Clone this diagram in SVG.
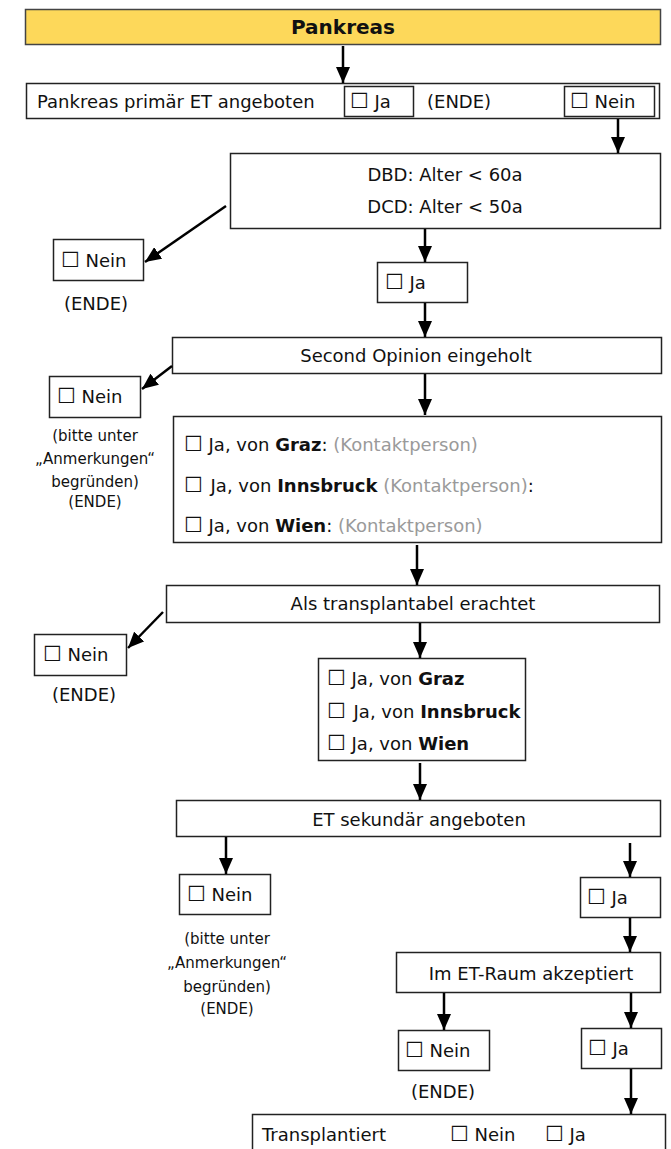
<svg xmlns="http://www.w3.org/2000/svg" width="671" height="1149" viewBox="0 0 671 1149">
  <defs>
    <marker id="arrow" markerUnits="userSpaceOnUse" markerWidth="16" markerHeight="14" refX="16" refY="7" orient="auto">
      <path d="M0,0 L16,7 L0,14 z" fill="#000"/>
    </marker>
    <style>
      text { font-family: "DejaVu Sans", "Liberation Sans", sans-serif; font-size: 18px; fill: #111; }
      .box { fill: #fff; stroke: #222; stroke-width: 1.5; }
      .head { fill: #FDD85A; stroke: #444; stroke-width: 1.5; }
      .b { font-weight: bold; }
      .h { font-size: 20px; }
      .c { text-anchor: middle; }
      .s { font-size: 15px; }
      .g { fill: #9a9a9a; }
      .cb { font-size: 21px; }
      .conn line { stroke: #000; stroke-width: 2.5; marker-end: url(#arrow); }
    </style>
  </defs>
  <rect width="671" height="1149" fill="#fff"/>

  <!-- header -->
  <g id="n-pankreas">
    <rect class="head" x="25.5" y="9.5" width="635" height="35"/>
    <text class="b c h" x="343" y="34">Pankreas</text>
  </g>

  <!-- primary offer row -->
  <g id="n-primaer">
    <rect class="box" x="26.5" y="83.5" width="633" height="35"/>
    <text x="37" y="108">Pankreas primär ET angeboten</text>
    <rect class="box" x="344.5" y="86.5" width="69" height="30"/>
    <text x="350" y="108"><tspan class="cb">☐</tspan> Ja</text>
    <text x="427" y="108">(ENDE)</text>
    <rect class="box" x="564.5" y="86.5" width="90" height="30"/>
    <text x="570" y="108"><tspan class="cb">☐</tspan> Nein</text>
  </g>

  <g id="n-alter">
    <rect class="box" x="230.5" y="153.5" width="430" height="75"/>
    <text class="c" x="445" y="181">DBD: Alter &lt; 60a</text>
    <text class="c" x="445" y="213">DCD: Alter &lt; 50a</text>
  </g>

  <g id="n-alter-nein">
    <rect class="box" x="53.5" y="239.5" width="90" height="41"/>
    <text x="61" y="267"><tspan class="cb">☐</tspan> Nein</text>
    <text class="c" x="96" y="310">(ENDE)</text>
  </g>

  <g id="n-alter-ja">
    <rect class="box" x="377.5" y="262.5" width="90" height="40"/>
    <text x="385" y="289"><tspan class="cb">☐</tspan> Ja</text>
  </g>

  <g id="n-second">
    <rect class="box" x="172.5" y="337.5" width="489" height="36"/>
    <text class="c" x="416" y="362">Second Opinion eingeholt</text>
  </g>

  <g id="n-second-nein">
    <rect class="box" x="49.5" y="376.5" width="91" height="41"/>
    <text x="57" y="403"><tspan class="cb">☐</tspan> Nein</text>
    <text class="c s" x="95" y="441">(bitte unter</text>
    <text class="c s" x="95" y="464">„Anmerkungen“</text>
    <text class="c s" x="95" y="487">begründen)</text>
    <text class="c s" x="95" y="507">(ENDE)</text>
  </g>

  <g id="n-second-ja">
    <rect class="box" x="173.5" y="416.5" width="488" height="126"/>
    <text x="184" y="451"><tspan class="cb">☐</tspan> Ja, von <tspan class="b">Graz</tspan>: <tspan class="g">(Kontaktperson)</tspan></text>
    <text x="184" y="492"><tspan class="cb">☐</tspan> <tspan dx="2">Ja, von </tspan><tspan class="b">Innsbruck</tspan> <tspan class="g">(Kontaktperson)</tspan>:</text>
    <text x="184" y="532"><tspan class="cb">☐</tspan> Ja, von <tspan class="b">Wien</tspan>: <tspan class="g">(Kontaktperson)</tspan></text>
  </g>

  <g id="n-transplantabel">
    <rect class="box" x="166.5" y="585.5" width="493" height="37"/>
    <text class="c" x="413" y="610">Als transplantabel erachtet</text>
  </g>

  <g id="n-transplantabel-nein">
    <rect class="box" x="34.5" y="634.5" width="92" height="41"/>
    <text x="43" y="661"><tspan class="cb">☐</tspan> Nein</text>
    <text class="c" x="84" y="701">(ENDE)</text>
  </g>

  <g id="n-transplantabel-ja">
    <rect class="box" x="318.5" y="658.5" width="207" height="102"/>
    <text x="327" y="685"><tspan class="cb">☐</tspan> Ja, von <tspan class="b">Graz</tspan></text>
    <text x="327" y="718"><tspan class="cb">☐</tspan> <tspan dx="2">Ja, von </tspan><tspan class="b">Innsbruck</tspan></text>
    <text x="327" y="750"><tspan class="cb">☐</tspan> Ja, von <tspan class="b">Wien</tspan></text>
  </g>

  <g id="n-sekundaer">
    <rect class="box" x="176.5" y="800.5" width="484" height="36"/>
    <text class="c" x="419" y="826">ET sekundär angeboten</text>
  </g>

  <g id="n-sekundaer-nein">
    <rect class="box" x="179.5" y="874.5" width="91" height="40"/>
    <text x="187" y="901"><tspan class="cb">☐</tspan> Nein</text>
    <text class="c s" x="227" y="944">(bitte unter</text>
    <text class="c s" x="227" y="968">„Anmerkungen“</text>
    <text class="c s" x="227" y="992">begründen)</text>
    <text class="c s" x="227" y="1014">(ENDE)</text>
  </g>

  <g id="n-sekundaer-ja">
    <rect class="box" x="580.5" y="877.5" width="80" height="40"/>
    <text x="587" y="904"><tspan class="cb">☐</tspan> Ja</text>
  </g>

  <g id="n-akzeptiert">
    <rect class="box" x="396.5" y="952.5" width="264" height="40"/>
    <text class="c" x="531" y="980">Im ET-Raum akzeptiert</text>
  </g>

  <g id="n-akzeptiert-nein">
    <rect class="box" x="398.5" y="1030.5" width="91" height="40"/>
    <text x="405" y="1057"><tspan class="cb">☐</tspan> Nein</text>
    <text class="c" x="443" y="1098">(ENDE)</text>
  </g>

  <g id="n-akzeptiert-ja">
    <rect class="box" x="581.5" y="1028.5" width="80" height="40"/>
    <text x="588" y="1055"><tspan class="cb">☐</tspan> Ja</text>
  </g>

  <g id="n-transplantiert">
    <rect class="box" x="252.5" y="1114.5" width="413" height="40"/>
    <text x="262" y="1141">Transplantiert</text>
    <text x="450" y="1141"><tspan class="cb">☐</tspan> Nein</text>
    <text x="545" y="1141"><tspan class="cb">☐</tspan> Ja</text>
  </g>

  <!-- connectors -->
  <g id="connectors" class="conn">
    <line x1="343" y1="46" x2="343" y2="83"/>
    <line x1="618" y1="119" x2="618" y2="153"/>
    <line x1="226" y1="206" x2="145" y2="262"/>
    <line x1="425" y1="229" x2="425" y2="262"/>
    <line x1="425" y1="303" x2="425" y2="337"/>
    <line x1="172" y1="366" x2="142" y2="389"/>
    <line x1="425" y1="374" x2="425" y2="415"/>
    <line x1="417" y1="545" x2="417" y2="585"/>
    <line x1="163" y1="612" x2="128" y2="648"/>
    <line x1="420" y1="623" x2="420" y2="658"/>
    <line x1="420" y1="763" x2="420" y2="800"/>
    <line x1="226" y1="837" x2="226" y2="874"/>
    <line x1="630" y1="843" x2="630" y2="877"/>
    <line x1="630" y1="918" x2="630" y2="952"/>
    <line x1="444" y1="993" x2="444" y2="1030"/>
    <line x1="631" y1="993" x2="631" y2="1028"/>
    <line x1="631" y1="1069" x2="631" y2="1114"/>
  </g>
</svg>
